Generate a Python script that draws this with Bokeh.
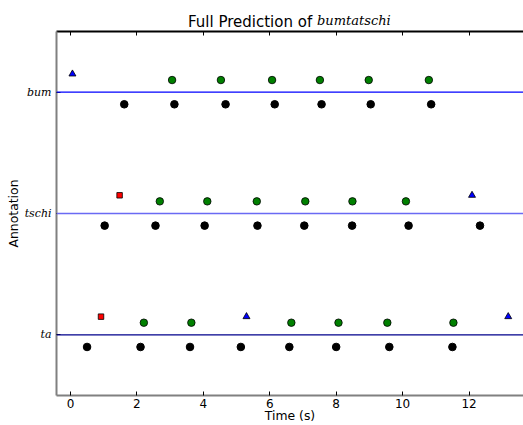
from bokeh.plotting import figure
from bokeh.layouts import column
from bokeh.models import Range1d, FixedTicker, LinearAxis, Span, ColumnDataSource, Div
from bokeh.embed import file_html
from bokeh.resources import INLINE

# ---- data ----
row_names = ["ta", "tschi", "bum"]
row_levels = [0, 1, 2]
line_colors = ["#00008b", "#6a6af4", "#0000ff"]

# black circles (below each line)
onset_ta = [0.50, 2.11, 3.60, 5.13, 6.59, 8.00, 9.60, 11.50]
onset_tschi = [1.03, 2.56, 4.04, 5.63, 7.04, 8.48, 10.18, 12.33]
onset_bum = [1.62, 3.13, 4.67, 6.15, 7.56, 9.04, 10.86]

# green circles
green_ta = [2.21, 3.64, 6.65, 8.07, 9.54, 11.53]
green_tschi = [2.69, 4.12, 5.61, 7.07, 8.49, 10.10]
green_bum = [3.06, 4.53, 6.07, 7.51, 8.98, 10.79]

# red squares
red_ta = [0.92]
red_tschi = [1.48]
red_bum = []

# blue triangles
blue_ta = [5.30, 13.18]
blue_tschi = [12.09]
blue_bum = [0.06]

x_ticks = [0, 2, 4, 6, 8, 10, 12]
x_start, x_end = -0.42, 13.64
y_start, y_end = -0.5, 2.5

title_plain = "Full Prediction of"
title_italic = "bumtatschi"
x_label = "Time (s)"
y_label = "Annotation"

below_off = -0.1
green_off = 0.1
marker_off = 0.15

# ---- title strip (two fonts) ----
title_html = (
    '<div style="position:relative;width:523px;height:28px;">'
    '<span style="position:absolute;left:188px;top:15px;line-height:1;white-space:nowrap;'
    "font-family:'DejaVu Sans';font-size:15px;color:black;\">" + title_plain + '</span>'
    '<span style="position:absolute;left:317px;top:14px;line-height:1;white-space:nowrap;'
    "font-family:'DejaVu Serif';font-style:italic;font-size:13px;color:black;\">" + title_italic + '</span>'
    '</div>'
)
t = Div(text=title_html, width=523, height=28, margin=(0, 0, 0, 0))

# ---- main plot ----
p = figure(width=523, height=397, output_backend="svg", toolbar_location=None,
           x_range=Range1d(x_start, x_end), y_range=Range1d(y_start, y_end),
           min_border_left=56, min_border_right=0, min_border_top=3, min_border_bottom=29,
           x_axis_location=None, y_axis_location=None)
p.outline_line_color = None
p.xgrid.visible = False
p.ygrid.visible = False
p.background_fill_color = "white"
p.border_fill_color = "white"

bottom = LinearAxis(ticker=FixedTicker(ticks=x_ticks))
bottom.axis_line_color = "#808080"
bottom.axis_line_width = 2
bottom.major_tick_in = 4
bottom.major_tick_out = 0
bottom.minor_tick_in = 0
bottom.minor_tick_out = 0
bottom.major_tick_line_color = "black"
bottom.major_label_text_font = "DejaVu Sans"
bottom.major_label_text_font_size = "12px"
bottom.major_label_text_color = "black"
bottom.major_label_standoff = 3
bottom.axis_label = x_label
bottom.axis_label_text_font = "DejaVu Sans"
bottom.axis_label_text_font_style = "normal"
bottom.axis_label_text_font_size = "12.4px"
bottom.axis_label_text_color = "black"
bottom.axis_label_standoff = -3
p.add_layout(bottom, "below")

top = LinearAxis(ticker=FixedTicker(ticks=x_ticks))
top.axis_line_color = "black"
top.axis_line_width = 2
top.major_tick_in = 4
top.major_tick_out = 0
top.minor_tick_in = 0
top.minor_tick_out = 0
top.major_tick_line_color = "black"
top.major_label_text_font_size = "1px"
top.major_label_text_alpha = 0
top.major_label_standoff = 0
p.add_layout(top, "above")

left = LinearAxis(ticker=FixedTicker(ticks=row_levels))
left.major_label_overrides = {lv: nm for lv, nm in zip(row_levels, row_names)}
left.axis_line_color = "#808080"
left.axis_line_width = 2
left.major_tick_in = 4
left.major_tick_out = 0
left.minor_tick_in = 0
left.minor_tick_out = 0
left.major_tick_line_color = "black"
left.major_label_text_font = "DejaVu Serif"
left.major_label_text_font_style = "italic"
left.major_label_text_font_size = "11px"
left.major_label_text_color = "black"
left.major_label_standoff = 5
left.axis_label = y_label
left.axis_label_text_font = "DejaVu Sans"
left.axis_label_text_font_style = "normal"
left.axis_label_text_font_size = "12.4px"
left.axis_label_text_color = "black"
left.axis_label_standoff = 1
p.add_layout(left, "left")

# horizontal annotation lines
for lv, col in zip(row_levels, line_colors):
    p.add_layout(Span(location=lv, dimension="width", line_color=col, line_width=1.3))

onsets = [onset_ta, onset_tschi, onset_bum]
greens = [green_ta, green_tschi, green_bum]
reds = [red_ta, red_tschi, red_bum]
blues = [blue_ta, blue_tschi, blue_bum]

def pts(groups, off):
    xs, ys = [], []
    for lv, g in zip(row_levels, groups):
        xs += g
        ys += [lv + off] * len(g)
    return ColumnDataSource(dict(x=xs, y=ys))

p.scatter("x", "y", source=pts(onsets, below_off), marker="circle", size=7.6,
          fill_color="black", line_color="black")
p.scatter("x", "y", source=pts(greens, green_off), marker="circle", size=7.5,
          fill_color="#008000", line_color="black", line_width=0.8)
p.scatter("x", "y", source=pts(reds, marker_off), marker="square", size=5.5,
          fill_color="#ff0000", line_color="black", line_width=0.8)
p.scatter("x", "y", source=pts(blues, marker_off), marker="triangle", size=7,
          fill_color="#0000ff", line_color="black", line_width=0.8)

layout = column(t, p, spacing=0)
open("out.html", "w").write(file_html(layout, INLINE))
